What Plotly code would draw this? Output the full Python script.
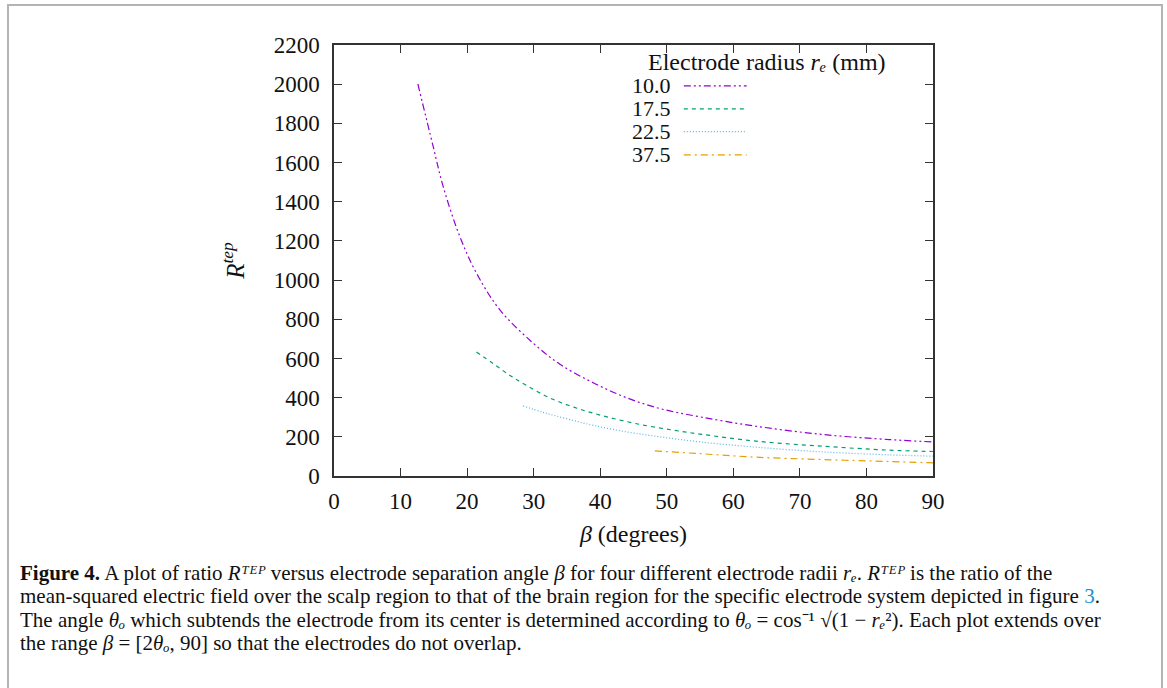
import plotly.graph_objects as go

# ---------------- data ----------------
radii_labels = ["10.0", "17.5", "22.5", "37.5"]

beta_10 = [12.6, 14.9, 16.4, 18.9, 21.4, 24.9, 29.9, 34.0, 39.0, 44.0, 49.0, 55.0, 63.4, 73.4, 83.4, 90.0]
r_10 = [2001, 1682, 1478, 1223, 1036, 849, 679, 569, 475, 399, 344, 302, 254, 212, 186, 174]

beta_17 = [21.4, 24.0, 26.5, 29.0, 32.4, 36.5, 41.0, 46.0, 51.0, 55.0, 63.4, 73.4, 83.4, 90.0]
r_17 = [633, 572, 512, 461, 399, 346, 302, 263, 234, 214, 178, 152, 132, 125]

beta_22 = [28.4, 31.4, 35.0, 39.0, 44.0, 49.0, 55.0, 63.4, 73.4, 83.4, 90.0]
r_22 = [358, 325, 292, 258, 225, 200, 174, 147, 123, 108, 101]

beta_37 = [48.2, 55.0, 63.4, 73.4, 83.4, 90.0]
r_37 = [128, 114, 96, 84, 74, 67]

x_ticks = [0, 10, 20, 30, 40, 50, 60, 70, 80, 90]
y_ticks = list(range(0, 2201, 200))

# ---------------- styles ----------------
colors = ["#9400D3", "#009E73", "#56B4E9", "#E69F00"]
dashes = ["7px,3px,2px,3px,2px,3px", "4px,4px", "1px,2px", "7px,4px,2px,4px"]
FONT = "Liberation Serif"

series = [(beta_10, r_10), (beta_17, r_17), (beta_22, r_22), (beta_37, r_37)]

fig = go.Figure()
for (bx, ry), lab, c, d in zip(series, radii_labels, colors, dashes):
    fig.add_trace(go.Scatter(x=bx, y=ry, mode="lines", name=lab,
                             line=dict(color=c, width=1.2, dash=d, shape="spline"),
                             showlegend=False))

axis_common = dict(showline=True, mirror="ticks", linecolor="#333333", linewidth=1.5,
                   ticks="inside", ticklen=8, tickcolor="#333333", tickwidth=1,
                   showgrid=False, zeroline=False,
                   tickfont=dict(family=FONT, size=23, color="#111111"))

fig.update_xaxes(range=[0, 90], tickvals=x_ticks, ticklabelstandoff=4, **axis_common,
                 title=dict(text="<i>β</i> (degrees)", font=dict(family=FONT, size=24, color="#111111"),
                            standoff=12))
fig.update_yaxes(range=[0, 2200], tickvals=y_ticks, ticklabelstandoff=8, **axis_common,
                 title=dict(text="<i>R</i><sup><i>tep</i></sup>", font=dict(family=FONT, size=25, color="#111111"),
                            standoff=22))

annotations = []
shapes = []

# legend (gnuplot style: right-aligned label, sample to the right)
annotations.append(dict(xref="paper", yref="paper", x=0.723, y=0.960, xanchor="center", yanchor="middle",
                        text="Electrode radius <i>rₑ</i> (mm)", showarrow=False,
                        font=dict(family=FONT, size=24, color="#111111")))
leg_y = [0.905, 0.852, 0.799, 0.745]
for lab, c, d, yy in zip(radii_labels, colors, dashes, leg_y):
    annotations.append(dict(xref="paper", yref="paper", x=0.566, y=yy, xanchor="right", yanchor="middle",
                            text=lab, showarrow=False, font=dict(family=FONT, size=22, color="#111111")))
    shapes.append(dict(type="line", xref="paper", yref="paper", x0=0.584, x1=0.689, y0=yy, y1=yy,
                       line=dict(color=c, width=1.2, dash=d)))

# caption
CAP = "Liberation Serif"
cap_lines = [
    "<b>Figure 4.</b> A plot of ratio <i>R</i><i>ᵀᴱᴾ</i> versus electrode separation angle <i>β</i> for four different electrode radii <i>rₑ</i>. <i>R</i><i>ᵀᴱᴾ</i> is the ratio of the",
    "mean-squared electric field over the scalp region to that of the brain region for the specific electrode system depicted in figure <span style='color:#1a8fd6'>3</span>.",
    "The angle <i>θₒ</i> which subtends the electrode from its center is determined according to <i>θₒ</i> = cos⁻¹ √(1 − <i>rₑ</i>²). Each plot extends over",
    "the range <i>β</i> = [2<i>θₒ</i>, 90] so that the electrodes do not overlap.",
]
cap_py = [574, 597, 621, 644]
for t, py in zip(cap_lines, cap_py):
    annotations.append(dict(xref="paper", yref="paper", x=(18 - 334) / 599, y=(476.5 - py) / 431.4,
                            xanchor="left", yanchor="middle", text=t, showarrow=False, align="left",
                            font=dict(family=CAP, size=21, color="#111111")))

# outer frame of the figure panel
shapes.append(dict(type="rect", xref="paper", yref="paper",
                   x0=(8 - 334) / 599, x1=(1162 - 334) / 599,
                   y0=(476.5 - 700) / 431.4, y1=(476.5 - 5) / 431.4,
                   line=dict(color="#b4b4b4", width=2), layer="below"))

fig.update_layout(width=1167, height=688, margin=dict(l=334, r=234, t=45, b=211.5),
                  paper_bgcolor="white", plot_bgcolor="white",
                  annotations=annotations, shapes=shapes, showlegend=False)

fig.write_html("out.html", config={"displayModeBar": False},
               post_script="document.body.style.margin='0px';")
